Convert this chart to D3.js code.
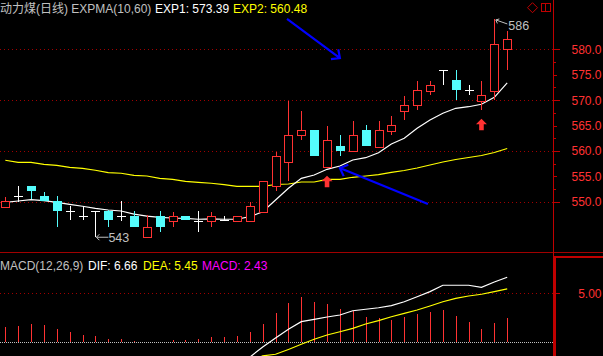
<!DOCTYPE html>
<html><head><meta charset="utf-8">
<script src="https://cdn.jsdelivr.net/npm/d3@7"></script>
<style>
html,body{margin:0;padding:0;background:#000;overflow:hidden;}
svg{display:block;}
text{font-family:"Liberation Sans",Arial,"Noto Sans CJK SC",sans-serif;}
</style></head><body>
<svg id="c" width="603" height="356"></svg>
<script>
// ---- data ----
const categories = ["1","2","3","4","5","6","7","8","9","10","11","12","13","14","15","16","17","18","19","20",
  "21","22","23","24","25","26","27","28","29","30","31","32","33","34","35","36","37","38","39","40"];
const open  = [549.0,551.1,553.1,551.1,550.1,548.2,547.2,548.2,548.2,547.2,547.2,543.1,547.2,546.1,547.2,546.2,546.1,546.3,546.1,546.1,
  548.0,553.0,557.9,563.1,564.1,556.9,561.0,559.9,564.1,560.8,564.0,567.9,569.0,571.9,575.9,574.0,572.0,569.9,571.9,580.0];
const high  = [550.9,553.1,553.1,552.0,551.1,549.2,549.2,548.2,548.3,550.1,548.2,547.3,548.2,548.0,547.2,548.2,548.0,547.2,547.2,550.0,
  554.1,559.8,569.8,567.9,564.1,564.9,563.1,565.9,565.1,565.9,566.9,570.8,573.8,573.8,575.9,575.9,572.9,573.8,586.0,583.7];
const low   = [549.0,550.0,550.5,550.2,545.1,546.3,546.3,543.0,545.1,546.2,545.1,543.1,544.1,545.1,546.3,544.1,545.1,546.1,546.1,546.1,
  548.0,552.2,554.1,562.2,559.0,556.9,559.0,559.9,561.0,560.8,563.1,566.1,568.1,571.0,573.0,570.0,571.0,568.1,570.0,575.9];
const close = [550.1,551.1,552.2,550.2,548.2,548.2,547.2,548.2,546.3,547.2,545.1,545.0,545.1,547.2,546.3,546.2,547.2,546.3,547.2,549.2,
  554.1,559.0,563.1,564.1,559.0,562.2,560.0,563.1,561.0,564.1,565.1,569.0,572.0,572.9,575.9,572.0,572.0,571.0,581.0,582.0];
const exp1 = [549.88,550.14,550.40,550.20,549.88,549.49,549.10,548.70,548.37,548.17,547.55,547.16,546.93,546.79,546.73,546.54,546.60,546.54,546.54,547.05,
  548.03,550.34,552.64,554.61,555.26,556.38,557.03,558.21,558.67,559.65,561.37,562.49,564.46,566.09,567.41,568.40,568.71,569.19,570.56,573.39];
const exp2 = [558.16,557.76,557.76,557.37,557.17,556.78,556.58,556.19,555.71,555.60,555.20,555.06,554.60,554.40,554.02,553.82,553.63,553.35,553.03,553.03,
  553.03,553.39,553.49,553.88,553.88,554.41,554.41,554.81,555.06,555.32,555.79,556.15,556.64,557.23,557.82,558.31,558.71,559.10,559.69,560.48];
const macdHist = [1.52,1.62,1.83,1.72,1.31,1.03,0.69,0.59,0.28,0.28,0.07,0,0,0.17,0.17,0.28,0.48,0.48,0.59,1.00,
  1.83,3.00,4.03,4.62,4.10,3.89,3.38,3.17,2.55,2.45,2.24,2.55,2.86,3.07,3.28,2.65,2.03,1.31,1.93,2.43];
const dif = [null,null,null,null,null,null,null,null,null,null,null,null,null,null,null,null,null,null,-2.6,-1.6,
  -0.54,0.38,1.29,2.07,2.31,2.55,2.76,3.20,3.35,3.51,3.72,4.13,4.65,5.17,5.83,5.83,5.83,5.62,6.17,6.66];
const dea = [null,null,null,null,null,null,null,null,null,null,null,null,null,null,null,null,null,null,null,-2.1,
  -1.46,-1.3,-0.8,-0.27,0.25,0.69,1.03,1.38,1.83,2.17,2.58,2.93,3.27,3.69,4.13,4.48,4.72,4.90,5.17,5.45];
const priceLabels = [550,555,560,565,570,575,580];
const priceGrid = [550,560,570,580];
const priceMinor = [552.5,557.5,562.5,567.5,572.5,577.5];
const macdLabels = [5];
const signalIdx = [25,37];

// ---- colors ----
const RED="#ff3232", CYAN="#54fcfc", WHITE="#ffffff", YEL="#ffff00", GRAY="#c0c0c0", AX="#c00000", GRID="#a00000", MAG="#ff00ff", BLUE="#0000ff";

const svg = d3.select("#c");
svg.append("rect").attr("width",603).attr("height",356).attr("fill","#000");

const x = d3.scalePoint().domain(categories).range([5.3,507.2]);
const xi = d3.scaleLinear().domain([0,categories.length-1]).range([5.3,507.2]);
const yP = d3.scaleLinear().domain([550,580]).range([201.7,49.4]);
const yM = d3.scaleLinear().domain([0,5]).range([341.7,293.3]);
const px = v => Math.round(v)+0.5;

// grid
const gridG = svg.append("g").attr("shape-rendering","crispEdges");
priceGrid.forEach(v=>{
  gridG.append("line").attr("x1",0).attr("x2",553).attr("y1",px(yP(v))).attr("y2",px(yP(v)))
    .attr("stroke",GRID).attr("stroke-dasharray","1,3");
});
macdLabels.forEach(v=>{
  gridG.append("line").attr("x1",0).attr("x2",553).attr("y1",px(yM(v))).attr("y2",px(yM(v)))
    .attr("stroke",GRID).attr("stroke-dasharray","1,3");
});
gridG.append("line").attr("x1",0).attr("x2",553).attr("y1",px(yM(0))).attr("y2",px(yM(0)))
  .attr("stroke",GRAY).attr("stroke-dasharray","1,1");

// separator, axis line, box
svg.append("line").attr("x1",0).attr("x2",603).attr("y1",252.5).attr("y2",252.5).attr("stroke",GRID).attr("shape-rendering","crispEdges");
svg.append("line").attr("x1",553.5).attr("x2",553.5).attr("y1",0).attr("y2",356).attr("stroke",AX).attr("shape-rendering","crispEdges");
svg.append("rect").attr("x",555).attr("y",257).attr("width",60).attr("height",110).attr("fill","none").attr("stroke",AX).attr("stroke-width",2).attr("shape-rendering","crispEdges");

// price axis
const axP = svg.append("g").attr("transform","translate(553.5,0)")
  .call(d3.axisRight(yP).tickValues(priceLabels).tickFormat(d3.format(".1f")).tickSize(6));
axP.select(".domain").remove();
axP.selectAll(".tick line").attr("stroke",AX).attr("x2",d=>d%10===0?6:3).attr("shape-rendering","crispEdges");
axP.selectAll(".tick text").attr("x",48).attr("text-anchor","end").attr("fill",RED)
  .attr("font-size","12px").attr("font-family","'Liberation Sans',Arial,sans-serif");
const axP2 = svg.append("g").attr("transform","translate(553.5,0)")
  .call(d3.axisRight(yP).tickValues(priceMinor).tickFormat("").tickSize(2));
axP2.select(".domain").remove();
axP2.selectAll(".tick line").attr("stroke",AX).attr("shape-rendering","crispEdges");

// macd axis
const axM = svg.append("g").attr("transform","translate(553.5,0)")
  .call(d3.axisRight(yM).tickValues(macdLabels).tickFormat(d3.format(".2f")).tickSize(6));
axM.select(".domain").remove();
axM.selectAll(".tick line").attr("stroke",AX).attr("shape-rendering","crispEdges");
axM.selectAll(".tick text").attr("x",48).attr("text-anchor","end").attr("fill",RED)
  .attr("font-size","12px").attr("font-family","'Liberation Sans',Arial,sans-serif");

// EXPMA lines
const lineP = arr => d3.line().defined(d=>d!=null).x((d,i)=>x(categories[i])).y(d=>yP(d))(arr);
svg.append("path").attr("d",lineP(exp2)).attr("fill","none").attr("stroke",YEL).attr("stroke-width",1.2);
svg.append("path").attr("d",lineP(exp1)).attr("fill","none").attr("stroke",WHITE).attr("stroke-width",1.2);

// candles
const cg = svg.append("g").attr("shape-rendering","crispEdges");
categories.forEach((c,i)=>{
  const cx = px(x(c));
  const o=open[i], cl=close[i], h=high[i], l=low[i];
  if (cl>o){
    const top = px(yP(cl)), bot = px(yP(o));
    cg.append("line").attr("x1",cx).attr("x2",cx).attr("y1",yP(h)).attr("y2",top).attr("stroke",RED);
    cg.append("line").attr("x1",cx).attr("x2",cx).attr("y1",bot).attr("y2",yP(l)).attr("stroke",RED);
    cg.append("rect").attr("x",cx-4).attr("y",top).attr("width",8).attr("height",bot-top)
      .attr("fill","#000").attr("stroke",RED);
  } else if (cl<o){
    const top = Math.round(yP(o)), bot = Math.round(yP(cl));
    cg.append("line").attr("x1",cx).attr("x2",cx).attr("y1",yP(h)).attr("y2",yP(l)).attr("stroke",CYAN);
    cg.append("rect").attr("x",cx-4.5).attr("y",top).attr("width",9).attr("height",Math.max(1,bot-top)).attr("fill",CYAN);
  } else {
    const yy = px(yP(o));
    cg.append("line").attr("x1",cx).attr("x2",cx).attr("y1",yP(h)).attr("y2",yP(l)).attr("stroke",WHITE);
    cg.append("line").attr("x1",cx-4.5).attr("x2",cx+4.5).attr("y1",yy).attr("y2",yy).attr("stroke",WHITE);
  }
});

// buy signal arrows
signalIdx.forEach(i=>{
  const cx = x(categories[i]), t = yP(low[i]) + 9;
  svg.append("path").attr("fill",RED)
    .attr("d",`M${cx},${t} L${cx+5.5},${t+5.5} L${cx+2.3},${t+5.5} L${cx+2.3},${t+11.5} L${cx-2.3},${t+11.5} L${cx-2.3},${t+5.5} L${cx-5.5},${t+5.5} Z`);
});

// hi/lo labels
const lo = d3.minIndex(low), hi = d3.maxIndex(high);
{
  const cx = x(categories[lo]), yy = yP(low[lo]);
  svg.append("path").attr("d",`M${cx+13},${yy} L${cx+1},${yy} M${cx+4},${yy-3} L${cx+1},${yy} L${cx+4},${yy+3}`)
    .attr("stroke",GRAY).attr("fill","none");
  svg.append("text").attr("x",cx+13).attr("y",yy+4.5).attr("fill",GRAY).attr("font-size","12.5px").text(d3.format("d")(low[lo]));
}
{
  const cx = x(categories[hi]), yy = yP(high[hi]);
  svg.append("path").attr("d",`M${cx+1.5},${yy+1} L${cx+13},${yy+5} M${cx+1.5},${yy+1} L${cx+3},${yy+4.5} M${cx+1.5},${yy+1} L${cx+5},${yy}`)
    .attr("stroke",GRAY).attr("fill","none");
  svg.append("text").attr("x",cx+14).attr("y",yy+11.5).attr("fill",GRAY).attr("font-size","12.5px").text(d3.format("d")(high[hi]));
}

// blue annotation arrows
function blueArrow(i0,p0,i1,p1){
  const x0=xi(i0), y0=yP(p0), x1=xi(i1), y1=yP(p1);
  const a = Math.atan2(y0-y1,x0-x1), L=9, s=0.75;
  svg.append("path").attr("fill","none").attr("stroke",BLUE).attr("stroke-width",2.2)
    .attr("d",`M${x0},${y0} L${x1},${y1} M${x1+L*Math.cos(a+s)},${y1+L*Math.sin(a+s)} L${x1},${y1} L${x1+L*Math.cos(a-s)},${y1+L*Math.sin(a-s)}`);
}
blueArrow(21.89,586.0,26.0,578.3);
blueArrow(32.84,549.55,26.0,556.64);

// MACD panel
const mclip = svg.append("clipPath").attr("id","mclip").append("rect").attr("x",0).attr("y",254).attr("width",553).attr("height",102);
const mg = svg.append("g").attr("clip-path","url(#mclip)");
const bg = mg.append("g").attr("shape-rendering","crispEdges");
macdHist.forEach((v,i)=>{
  if (v===0) return;
  const cx = px(x(categories[i]));
  bg.append("line").attr("x1",cx).attr("x2",cx).attr("y1",yM(0)).attr("y2",yM(v)).attr("stroke",v>0?RED:CYAN);
});
const lineM = arr => d3.line().defined(d=>d!=null).x((d,i)=>x(categories[i])).y(d=>yM(d))(arr);
mg.append("path").attr("d",lineM(dea)).attr("fill","none").attr("stroke",YEL).attr("stroke-width",1.2);
mg.append("path").attr("d",lineM(dif)).attr("fill","none").attr("stroke",WHITE).attr("stroke-width",1.2);

// titles
const f2 = d3.format(".2f");
const t1 = svg.append("g").attr("font-size","12px");
t1.append("text").attr("x",0).attr("y",13).attr("fill",GRAY).text("动力煤(日线) EXPMA(10,60)");
t1.append("text").attr("x",155).attr("y",13).attr("fill",WHITE).text("EXP1: "+f2(exp1[exp1.length-1]));
t1.append("text").attr("x",233).attr("y",13).attr("fill",YEL).text("EXP2: "+f2(exp2[exp2.length-1]));
const t2 = svg.append("g").attr("font-size","12px");
t2.append("text").attr("x",0).attr("y",269.5).attr("fill",GRAY).text("MACD(12,26,9)");
t2.append("text").attr("x",88).attr("y",269.5).attr("fill",WHITE).text("DIF: "+f2(dif[dif.length-1]));
t2.append("text").attr("x",143).attr("y",269.5).attr("fill",YEL).text("DEA: "+f2(dea[dea.length-1]));
t2.append("text").attr("x",202).attr("y",269.5).attr("fill",MAG).text("MACD: "+f2(macdHist[macdHist.length-1]));

// top-right icons
svg.append("path").attr("d","M532.5,2.7 L537.5,7.7 L532.5,12.7 L527.5,7.7 Z").attr("fill","none").attr("stroke",AX);
svg.append("rect").attr("x",541.5).attr("y",3.5).attr("width",9).attr("height",8).attr("fill","none").attr("stroke",AX).attr("shape-rendering","crispEdges");
svg.append("line").attr("x1",545.5).attr("x2",545.5).attr("y1",3.5).attr("y2",11.5).attr("stroke",AX).attr("shape-rendering","crispEdges");
</script>
</body></html>
